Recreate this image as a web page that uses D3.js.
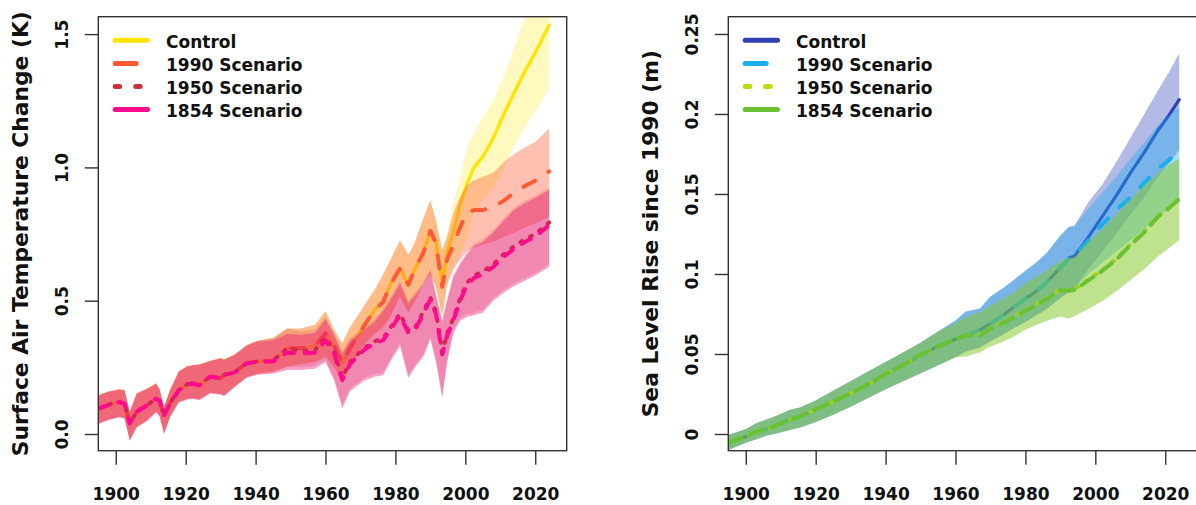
<!DOCTYPE html>
<html>
<head>
<meta charset="utf-8">
<script src="https://cdn.jsdelivr.net/npm/d3@7"></script>
<style>
  html, body { margin: 0; padding: 0; background: #ffffff; }
  svg { display: block; font-family: "DejaVu Sans", sans-serif; font-weight: bold; }
</style>
</head>
<body>
<svg id="chart" width="1196" height="505"></svg>
<script>
// ---------------- DATA ----------------
const scenarioNames = ["Control", "1990 Scenario", "1950 Scenario", "1854 Scenario"];
const xTicks = [1900, 1920, 1940, 1960, 1980, 2000, 2020];
const tempTicks = [0, 0.5, 1.0, 1.5];
const tempTickLabels = ["0.0", "0.5", "1.0", "1.5"];
const seaTicks = [0, 0.05, 0.1, 0.15, 0.2, 0.25];
const seaTickLabels = ["0", "0.05", "0.1", "0.15", "0.2", "0.25"];

// Surface air temperature change (K)
const tempYears = [1895, 1898, 1901, 1902.5, 1904, 1906, 1909, 1911.5, 1912.5, 1913.8, 1915.5, 1918, 1920.5, 1922, 1924, 1927, 1930, 1931, 1934, 1937.5, 1940.5, 1945, 1949, 1953, 1957, 1960, 1962.5, 1964.8, 1967, 1971, 1974, 1976.5, 1978.5, 1981.3, 1983.7, 1985.6, 1988, 1990, 1991.6, 1993.4, 1994.8, 1996.6, 1998.5, 2000.5, 2002.5, 2005, 2008, 2011, 2014, 2017, 2020, 2024];

const tempControl   = [0.096, 0.11, 0.121, 0.115, 0.040, 0.084, 0.109, 0.134, 0.125, 0.071, 0.115, 0.165, 0.187, 0.19, 0.183, 0.217, 0.209, 0.222, 0.232, 0.267, 0.272, 0.275, 0.321, 0.322, 0.33, 0.378, 0.33, 0.265, 0.322, 0.405, 0.465, 0.495, 0.56, 0.621, 0.56, 0.62, 0.68, 0.762, 0.72, 0.565, 0.68, 0.76, 0.86, 0.94, 1.0, 1.04, 1.11, 1.2, 1.28, 1.36, 1.43, 1.534];
const tempControlHi = [0.146, 0.16, 0.168, 0.165, 0.084, 0.153, 0.171, 0.19, 0.17, 0.102, 0.165, 0.235, 0.255, 0.259, 0.262, 0.275, 0.285, 0.28, 0.298, 0.334, 0.35, 0.36, 0.396, 0.396, 0.41, 0.46, 0.39, 0.34, 0.40, 0.48, 0.54, 0.60, 0.652, 0.727, 0.672, 0.72, 0.81, 0.877, 0.80, 0.69, 0.76, 0.87, 0.96, 1.077, 1.13, 1.185, 1.25, 1.34, 1.45, 1.56, 1.66, 1.80];
const tempControlLo = [0.04, 0.055, 0.065, 0.06, -0.022, 0.027, 0.052, 0.084, 0.07, 0.003, 0.065, 0.12, 0.132, 0.134, 0.13, 0.155, 0.15, 0.145, 0.178, 0.215, 0.226, 0.234, 0.252, 0.262, 0.27, 0.29, 0.25, 0.19, 0.25, 0.335, 0.375, 0.40, 0.44, 0.515, 0.455, 0.50, 0.56, 0.60, 0.55, 0.44, 0.57, 0.63, 0.68, 0.74, 0.83, 0.88, 0.92, 0.99, 1.08, 1.15, 1.21, 1.296];

const temp1990   = [0.096, 0.11, 0.121, 0.115, 0.040, 0.084, 0.109, 0.134, 0.125, 0.071, 0.115, 0.165, 0.187, 0.19, 0.183, 0.217, 0.209, 0.222, 0.232, 0.267, 0.272, 0.275, 0.321, 0.322, 0.33, 0.378, 0.33, 0.265, 0.322, 0.405, 0.465, 0.495, 0.56, 0.621, 0.56, 0.62, 0.68, 0.762, 0.715, 0.552, 0.655, 0.71, 0.775, 0.83, 0.84, 0.84, 0.852, 0.875, 0.905, 0.93, 0.95, 0.985];
const temp1990Hi = [0.146, 0.16, 0.168, 0.165, 0.084, 0.153, 0.171, 0.19, 0.17, 0.102, 0.165, 0.235, 0.255, 0.259, 0.262, 0.275, 0.285, 0.28, 0.298, 0.334, 0.35, 0.36, 0.396, 0.396, 0.41, 0.46, 0.39, 0.34, 0.40, 0.48, 0.54, 0.60, 0.652, 0.727, 0.672, 0.72, 0.81, 0.877, 0.80, 0.69, 0.74, 0.83, 0.89, 0.935, 0.952, 0.965, 0.98, 1.02, 1.05, 1.075, 1.095, 1.146];
const temp1990Lo = [0.04, 0.055, 0.065, 0.06, -0.022, 0.027, 0.052, 0.084, 0.07, 0.003, 0.065, 0.12, 0.132, 0.134, 0.13, 0.155, 0.15, 0.145, 0.178, 0.215, 0.226, 0.234, 0.252, 0.262, 0.27, 0.29, 0.25, 0.19, 0.25, 0.335, 0.375, 0.40, 0.44, 0.515, 0.455, 0.50, 0.56, 0.60, 0.55, 0.44, 0.56, 0.615, 0.655, 0.685, 0.70, 0.71, 0.72, 0.74, 0.755, 0.775, 0.79, 0.815];

const temp1950   = [0.096, 0.11, 0.121, 0.115, 0.040, 0.084, 0.109, 0.134, 0.125, 0.071, 0.115, 0.165, 0.187, 0.19, 0.183, 0.217, 0.209, 0.222, 0.232, 0.267, 0.272, 0.275, 0.321, 0.312, 0.315, 0.362, 0.31, 0.212, 0.27, 0.322, 0.347, 0.36, 0.397, 0.452, 0.388, 0.398, 0.46, 0.512, 0.458, 0.305, 0.377, 0.435, 0.508, 0.568, 0.594, 0.61, 0.636, 0.675, 0.705, 0.73, 0.75, 0.794];
const temp1950Hi = [0.146, 0.16, 0.168, 0.165, 0.084, 0.153, 0.171, 0.19, 0.17, 0.102, 0.165, 0.235, 0.255, 0.259, 0.262, 0.275, 0.285, 0.28, 0.298, 0.334, 0.35, 0.36, 0.396, 0.385, 0.392, 0.44, 0.38, 0.31, 0.36, 0.40, 0.43, 0.47, 0.51, 0.575, 0.50, 0.53, 0.57, 0.62, 0.53, 0.43, 0.51, 0.60, 0.645, 0.685, 0.715, 0.73, 0.765, 0.81, 0.85, 0.875, 0.895, 0.925];
const temp1950Lo = [0.04, 0.055, 0.065, 0.06, -0.022, 0.027, 0.052, 0.084, 0.07, 0.003, 0.065, 0.12, 0.132, 0.134, 0.13, 0.155, 0.15, 0.145, 0.178, 0.215, 0.226, 0.234, 0.252, 0.25, 0.255, 0.278, 0.21, 0.108, 0.17, 0.21, 0.225, 0.23, 0.28, 0.34, 0.22, 0.26, 0.30, 0.365, 0.28, 0.145, 0.28, 0.39, 0.435, 0.45, 0.455, 0.465, 0.51, 0.54, 0.565, 0.585, 0.605, 0.637];

const temp1854   = [0.095, 0.109, 0.12, 0.114, 0.039, 0.083, 0.108, 0.133, 0.124, 0.07, 0.114, 0.164, 0.186, 0.189, 0.182, 0.216, 0.208, 0.221, 0.231, 0.265, 0.27, 0.272, 0.305, 0.302, 0.305, 0.352, 0.30, 0.202, 0.262, 0.315, 0.34, 0.352, 0.39, 0.445, 0.38, 0.39, 0.452, 0.505, 0.45, 0.298, 0.37, 0.427, 0.50, 0.56, 0.585, 0.60, 0.627, 0.665, 0.695, 0.72, 0.74, 0.784];
const temp1854Hi = [0.144, 0.158, 0.166, 0.163, 0.082, 0.151, 0.169, 0.188, 0.168, 0.10, 0.163, 0.233, 0.253, 0.257, 0.26, 0.273, 0.283, 0.278, 0.296, 0.332, 0.347, 0.352, 0.375, 0.372, 0.38, 0.43, 0.37, 0.30, 0.35, 0.39, 0.42, 0.46, 0.50, 0.565, 0.49, 0.52, 0.56, 0.61, 0.52, 0.42, 0.50, 0.59, 0.635, 0.675, 0.705, 0.72, 0.755, 0.80, 0.84, 0.865, 0.885, 0.915];
const temp1854Lo = [0.037, 0.052, 0.062, 0.057, -0.026, 0.024, 0.049, 0.081, 0.067, -0.001, 0.062, 0.117, 0.129, 0.131, 0.127, 0.152, 0.147, 0.142, 0.175, 0.211, 0.222, 0.226, 0.24, 0.24, 0.245, 0.27, 0.20, 0.096, 0.16, 0.20, 0.215, 0.22, 0.27, 0.33, 0.21, 0.25, 0.29, 0.355, 0.27, 0.134, 0.27, 0.38, 0.425, 0.44, 0.445, 0.455, 0.50, 0.53, 0.555, 0.575, 0.595, 0.627];

// Sea level rise since 1990 (m)
const seaYears = [1895, 1900, 1903, 1906, 1909, 1912.5, 1915.5, 1920, 1925, 1930, 1935, 1940, 1945, 1950, 1955, 1960, 1963, 1967, 1970, 1973.5, 1976.5, 1980, 1983, 1986, 1990, 1992.5, 1994, 1998, 2002, 2006, 2010, 2014, 2018, 2021, 2024];

const seaControl   = [-0.0054, -0.0017, 0.0015, 0.003, 0.0056, 0.009, 0.0108, 0.0154, 0.0202, 0.0254, 0.031, 0.0375, 0.0431, 0.0495, 0.0548, 0.0592, 0.062, 0.065, 0.069, 0.074, 0.079, 0.0845, 0.089, 0.0945, 0.104, 0.11, 0.111, 0.123, 0.136, 0.149, 0.163, 0.176, 0.19, 0.199, 0.209];
const seaControlHi = [-0.0006, 0.003, 0.0067, 0.009, 0.0115, 0.015, 0.0165, 0.021, 0.027, 0.033, 0.039, 0.045, 0.051, 0.057, 0.064, 0.071, 0.0765, 0.0785, 0.086, 0.091, 0.096, 0.102, 0.107, 0.113, 0.124, 0.1296, 0.13, 0.145, 0.156, 0.17, 0.185, 0.2, 0.215, 0.226, 0.238];
const seaControlLo = [-0.01, -0.0055, -0.0033, -0.001, 0.0005, 0.0025, 0.004, 0.0075, 0.012, 0.017, 0.0225, 0.028, 0.033, 0.038, 0.043, 0.048, 0.0515, 0.054, 0.058, 0.062, 0.066, 0.07, 0.074, 0.078, 0.085, 0.089, 0.091, 0.103, 0.114, 0.125, 0.137, 0.148, 0.161, 0.169, 0.1775];

const sea1990   = [-0.0054, -0.0017, 0.0015, 0.003, 0.0056, 0.009, 0.0108, 0.0154, 0.0202, 0.0254, 0.031, 0.0375, 0.0431, 0.0495, 0.0548, 0.0592, 0.062, 0.065, 0.069, 0.074, 0.079, 0.0845, 0.089, 0.0945, 0.104, 0.11, 0.111, 0.121, 0.131, 0.14, 0.148, 0.157, 0.166, 0.171, 0.1775];
const sea1990Hi = [-0.0006, 0.003, 0.0067, 0.009, 0.0115, 0.015, 0.0165, 0.021, 0.027, 0.033, 0.039, 0.045, 0.051, 0.057, 0.064, 0.071, 0.0765, 0.0785, 0.086, 0.091, 0.096, 0.102, 0.107, 0.113, 0.124, 0.1296, 0.13, 0.141, 0.151, 0.161, 0.172, 0.182, 0.193, 0.199, 0.2046];
const sea1990Lo = [-0.01, -0.0055, -0.0033, -0.001, 0.0005, 0.0025, 0.004, 0.0075, 0.012, 0.017, 0.0225, 0.028, 0.033, 0.038, 0.043, 0.048, 0.0515, 0.054, 0.058, 0.062, 0.066, 0.07, 0.074, 0.078, 0.085, 0.089, 0.091, 0.1, 0.107, 0.114, 0.121, 0.128, 0.136, 0.141, 0.147];

const sea1950   = [-0.0054, -0.0017, 0.0015, 0.003, 0.0056, 0.009, 0.0108, 0.0154, 0.0202, 0.0254, 0.031, 0.0375, 0.0431, 0.0495, 0.0548, 0.0592, 0.062, 0.062, 0.0665, 0.0695, 0.073, 0.0775, 0.081, 0.0845, 0.0905, 0.09, 0.0905, 0.0965, 0.1025, 0.1095, 0.1185, 0.1265, 0.1365, 0.1415, 0.1475];
const sea1950Hi = [-0.0006, 0.003, 0.0067, 0.009, 0.0115, 0.015, 0.0165, 0.021, 0.027, 0.033, 0.039, 0.045, 0.051, 0.057, 0.064, 0.0695, 0.0735, 0.0765, 0.0805, 0.0845, 0.0885, 0.0945, 0.0985, 0.1025, 0.1085, 0.1105, 0.111, 0.1205, 0.1285, 0.1375, 0.1465, 0.1555, 0.1635, 0.1685, 0.1725];
const sea1950Lo = [-0.01, -0.0055, -0.0033, -0.001, 0.0005, 0.0025, 0.004, 0.0075, 0.012, 0.017, 0.0225, 0.028, 0.033, 0.038, 0.043, 0.048, 0.0488, 0.0515, 0.055, 0.058, 0.061, 0.0655, 0.0685, 0.071, 0.0738, 0.0725, 0.074, 0.0785, 0.0835, 0.0895, 0.0965, 0.1035, 0.1115, 0.1165, 0.1215];

const sea1854   = [-0.0054, -0.0017, 0.0015, 0.003, 0.0056, 0.009, 0.0108, 0.0154, 0.0202, 0.0254, 0.031, 0.0375, 0.0431, 0.0495, 0.0548, 0.0592, 0.0615, 0.0615, 0.066, 0.069, 0.0725, 0.077, 0.0805, 0.084, 0.09, 0.0895, 0.09, 0.096, 0.102, 0.109, 0.118, 0.126, 0.136, 0.141, 0.147];
const sea1854Hi = [-0.0006, 0.003, 0.0067, 0.009, 0.0115, 0.015, 0.0165, 0.021, 0.027, 0.033, 0.039, 0.045, 0.051, 0.057, 0.064, 0.069, 0.073, 0.076, 0.08, 0.084, 0.088, 0.094, 0.098, 0.102, 0.108, 0.11, 0.1105, 0.12, 0.128, 0.137, 0.146, 0.155, 0.163, 0.168, 0.172];
const sea1854Lo = [-0.01, -0.0055, -0.0033, -0.001, 0.0005, 0.0025, 0.004, 0.0075, 0.012, 0.017, 0.0225, 0.028, 0.033, 0.038, 0.043, 0.048, 0.0483, 0.051, 0.0546, 0.0575, 0.0605, 0.065, 0.068, 0.0705, 0.0733, 0.072, 0.0735, 0.078, 0.083, 0.089, 0.096, 0.103, 0.111, 0.116, 0.121];

// ---------------- STYLE ----------------
const svg = d3.select("#chart");
const L = { top: 16.7, bottom: 450.7, width: 468.4 };
const xDomain = [1895, 2029];

const tempStyles = [
  { line: "#ffe400", fill: "rgba(255,230,0,0.25)", w: 3.3, dash: null, legDash: null },
  { line: "#ff5a33", fill: "rgba(255,90,51,0.38)", w: 4, dash: "13,16", legDash: "21,40" },
  { line: "#c9323c", fill: "rgba(200,48,60,0.20)", w: 4, dash: "2,9", legDash: "4.5,16" },
  { line: "#ff0a8c", fill: "rgba(235,20,120,0.40)", w: 4, dash: "10,11", legDash: null }
];
const seaStyles = [
  { line: "#3040b4", fill: "rgba(51,68,187,0.37)", w: 3.2, dash: null, legDash: null },
  { line: "#1aaeea", fill: "rgba(30,170,238,0.40)", w: 4, dash: "13,16", legDash: "21,40" },
  { line: "#bcd80e", fill: "rgba(184,216,12,0.25)", w: 4, dash: "2,9", legDash: "4.5,16" },
  { line: "#68c232", fill: "rgba(108,194,46,0.36)", w: 4, dash: "14,9", legDash: null }
];

function drawPanel(opts) {
  const x0 = opts.left;
  const x = d3.scaleLinear().domain(xDomain).range([x0, x0 + L.width]);
  const y = d3.scaleLinear().domain(opts.yDomain).range([L.bottom, L.top]);
  const g = svg.append("g");

  const clipId = "clip" + opts.id;
  svg.append("defs").append("clipPath").attr("id", clipId)
    .append("rect").attr("x", x0).attr("y", L.top).attr("width", L.width).attr("height", L.bottom - L.top);

  const plot = g.append("g").attr("clip-path", `url(#${clipId})`);
  const years = opts.years;

  opts.series.forEach((s, i) => {
    const st = opts.styles[i];
    const rows = years.map((yr, k) => ({ yr, m: s.mean[k], lo: s.lo[k], hi: s.hi[k] }));
    const area = d3.area().x(d => x(d.yr)).y0(d => y(d.lo)).y1(d => y(d.hi));
    plot.append("path").datum(rows).attr("d", area).attr("fill", st.fill).attr("stroke", "none");
    const line = d3.line().x(d => x(d.yr)).y(d => y(d.m));
    plot.append("path").datum(rows).attr("d", line)
      .attr("fill", "none").attr("stroke", st.line).attr("stroke-width", st.w)
      .attr("stroke-linecap", "round").attr("stroke-linejoin", "round")
      .attr("stroke-dasharray", st.dash);
  });

  // Axes
  const xAxis = d3.axisBottom(x).tickValues(xTicks).tickSize(14).tickSizeOuter(0).tickFormat(d3.format("d"));
  const gx = g.append("g").attr("transform", `translate(0,${L.bottom})`).call(xAxis);
  gx.select(".domain").remove();
  gx.selectAll(".tick line").attr("stroke", "#333").attr("stroke-width", 1.4);
  gx.selectAll(".tick text").attr("y", 49.3).attr("dy", 0)
    .attr("fill", "#111").style("font-size", "17px").style("font-family", "DejaVu Sans").style("font-weight", "bold");

  const yAxis = d3.axisLeft(y).tickValues(opts.yTicks).tickSize(13.5).tickSizeOuter(0)
    .tickFormat((d, i) => opts.yTickLabels[i]);
  const gy = g.append("g").attr("transform", `translate(${x0},0)`).call(yAxis);
  gy.select(".domain").remove();
  gy.selectAll(".tick line").attr("stroke", "#333").attr("stroke-width", 1.4);
  gy.selectAll(".tick text").attr("x", null).attr("dy", 0)
    .attr("transform", "translate(-30,0) rotate(-90)")
    .attr("text-anchor", "middle")
    .attr("fill", "#111").style("font-size", "17px").style("font-family", "DejaVu Sans").style("font-weight", "bold");

  // Box
  g.append("rect").attr("x", x0).attr("y", L.top).attr("width", L.width).attr("height", L.bottom - L.top)
    .attr("fill", "none").attr("stroke", "#333").attr("stroke-width", 1.4);

  // Axis title
  g.append("text")
    .attr("transform", `translate(${x0 - 70.8},${(L.top + L.bottom) / 2}) rotate(-90)`)
    .attr("text-anchor", "middle").attr("fill", "#111")
    .style("font-size", "21.8px").style("font-weight", "bold")
    .text(opts.title);

  // Legend
  const leg = g.append("g");
  scenarioNames.forEach((name, i) => {
    const st = opts.styles[i];
    const base = 48 + i * 23.1;
    leg.append("line")
      .attr("x1", x0 + 16.9).attr("x2", x0 + 49.2)
      .attr("y1", base - 7.7).attr("y2", base - 7.7)
      .attr("stroke", st.line).attr("stroke-width", 5).attr("stroke-linecap", "round")
      .attr("stroke-dasharray", st.legDash);
    leg.append("text").attr("x", x0 + 67.7).attr("y", base).attr("fill", "#111")
      .style("font-size", "17px").style("font-weight", "bold").text(name);
  });
}

drawPanel({
  id: "T", left: 98.3, yDomain: [-0.0626, 1.5653],
  yTicks: tempTicks, yTickLabels: tempTickLabels,
  title: "Surface Air Temperature Change (K)",
  years: tempYears, styles: tempStyles,
  series: [
    { mean: tempControl, lo: tempControlLo, hi: tempControlHi },
    { mean: temp1990, lo: temp1990Lo, hi: temp1990Hi },
    { mean: temp1950, lo: temp1950Lo, hi: temp1950Hi },
    { mean: temp1854, lo: temp1854Lo, hi: temp1854Hi }
  ]
});

drawPanel({
  id: "S", left: 728.3, yDomain: [-0.01044, 0.2608],
  yTicks: seaTicks, yTickLabels: seaTickLabels,
  title: "Sea Level Rise since 1990 (m)",
  years: seaYears, styles: seaStyles,
  series: [
    { mean: seaControl, lo: seaControlLo, hi: seaControlHi },
    { mean: sea1990, lo: sea1990Lo, hi: sea1990Hi },
    { mean: sea1950, lo: sea1950Lo, hi: sea1950Hi },
    { mean: sea1854, lo: sea1854Lo, hi: sea1854Hi }
  ]
});
</script>
</body>
</html>
